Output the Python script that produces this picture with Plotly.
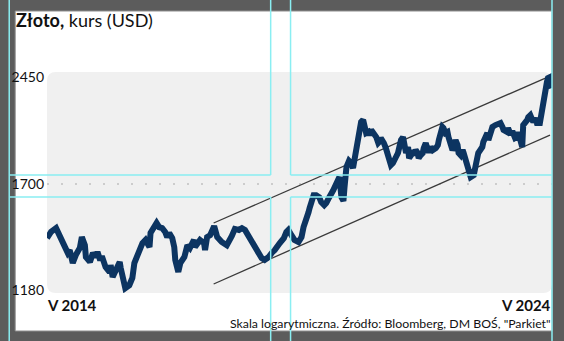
import plotly.graph_objects as go
import math

# ---------------- data ----------------
years = [2014.37,2014.45,2014.55,2014.59,2014.65,2014.72,2014.78,2014.82,2014.88,2014.94,
         2015.02,2015.06,2015.12,2015.14,2015.22,2015.28,2015.33,2015.37,2015.41,2015.47,
         2015.53,2015.61,2015.63,2015.67,2015.73,2015.81,2015.83,2015.87,2015.92,2016.00,
         2016.06,2016.10,2016.16,2016.20,2016.26,2016.32,2016.40,2016.42,2016.50,2016.54,
         2016.59,2016.65,2016.71,2016.75,2016.79,2016.85,2016.89,2016.91,2016.97,2017.01,
         2017.09,2017.15,2017.20,2017.28,2017.30,2017.38,2017.40,2017.48,2017.50,2017.54,
         2017.60,2017.68,
         2017.74,2017.83,2017.93,2018.03,2018.09,2018.17,2018.23,2018.29,
         2018.37,2018.46,2018.56,2018.62,2018.68,2018.76,2018.82,2018.88,2018.98,2019.06,
         2019.11,2019.15,2019.21,2019.27,2019.35,2019.41,2019.45,2019.51,2019.55,2019.57,
         2019.61,2019.65,2019.70,2019.76,2019.80,2019.86,2019.90,2019.94,2019.96,2020.04,
         2020.06,2020.14,2020.16,2020.20,2020.24,2020.26,2020.30,2020.35,
         2020.39,2020.43,2020.45,2020.49,2020.53,2020.55,2020.59,2020.63,2020.65,2020.69,2020.73,2020.75,
         2020.79,2020.83,2020.85,2020.89,2020.93,2020.95,2020.98,2021.02,2021.04,2021.08,
         2021.12,2021.14,2021.18,2021.22,2021.24,2021.28,2021.32,2021.34,2021.38,2021.42,
         2021.44,2021.48,2021.52,2021.54,2021.58,2021.61,2021.63,2021.67,2021.71,2021.73,
         2021.77,2021.81,2021.83,2021.87,2021.91,2021.93,2021.97,2022.01,2022.07,2022.11,
         2022.13,2022.17,2022.20,2022.22,2022.26,2022.30,2022.32,2022.36,2022.40,2022.42,
         2022.46,2022.50,2022.52,2022.56,2022.60,2022.62,2022.66,2022.70,2022.72,2022.76,
         2022.82,2022.85,2022.89,2022.91,2022.95,2022.99,2023.01,2023.05,2023.09,2023.11,
         2023.15,2023.19,2023.25,2023.31,2023.35,2023.39,2023.41,2023.48,2023.50,2023.54,
         2023.58,2023.60,2023.64,2023.68,2023.70,2023.74,2023.78,2023.80,2023.84,2023.88,
         2023.90,2023.94,2023.98,2024.00,2024.04,2024.07,2024.13,2024.17,2024.19,2024.23,
         2024.27,2024.29,2024.33,2024.35,2024.37]

gold_usd = [1412,1442,1461,1437,1412,1369,1342,1355,1296,1332,
            1365,1417,1378,1323,1301,1342,1323,1346,1318,1318,
            1278,1257,1287,1235,1265,1301,1274,1223,1189,1201,
            1231,1296,1332,1355,1388,1403,1369,1437,1466,1487,
            1466,1461,1442,1417,1437,1412,1369,1310,1257,1296,
            1323,1378,1365,1403,1369,1393,1403,1388,1355,1417,
            1426,1471,
            1417,1393,1378,1422,1457,1452,1461,1452,
            1417,1388,1346,1318,1310,1323,1342,1355,1388,1412,
            1442,1452,1426,1403,1393,1417,1466,1502,1544,1565,
            1609,1636,1636,1625,1598,1581,1593,1620,1625,1665,
            1677,1723,1741,1625,1604,1677,1802,1840,
            1827,1796,1833,1891,1977,2046,2103,2118,2060,2025,2032,2011,
            2046,2025,2032,1997,1957,1964,1990,1977,1957,1923,
            1877,1846,1814,1827,1846,1865,1891,1930,1977,1997,
            1957,1891,1930,1858,1877,1910,1877,1910,1891,1858,
            1877,1891,1923,1957,1910,1897,1930,1910,1923,1943,
            1977,2025,2067,2060,2025,2032,1997,1964,1910,1923,
            1977,1943,1891,1877,1910,1891,1846,1796,1753,1741,
            1753,1802,1865,1891,1910,1930,1964,2011,2025,1977,
            2011,2067,2081,2096,2096,2067,2046,2032,2060,2025,
            2032,2025,1990,1997,2032,1957,1930,2081,2096,2118,
            2139,2153,2118,2103,2132,2096,2096,2191,2268,2347,
            2413,2446,2454,2387,2363]

channel_years = [2017.67, 2024.33]
channel_upper = [1487, 2462]
channel_lower = [1206, 2011]

y_ticks = [1180, 1700, 2450]
y_tick_text = ["1180", "1700", "2450"]
x_start_label = "V 2014"
x_end_label = "V 2024"
y_range = [1169.4, 2488.4]

assert len(years) == len(gold_usd), (len(years), len(gold_usd))

# ---------------- layout helpers (pixel -> paper) ----------------
W, H = 564, 341
L, R, T, B = 44, 552, 73, 293
def px(x):
    return (x - L) / (R - L)
def py(y):
    return (B - y) / (B - T)

FONT = "Lato, Roboto, sans-serif"
NAVY = "#0c3461"
CYAN = "#8aeef2"

fig = go.Figure()

fig.add_trace(go.Scatter(x=channel_years, y=channel_upper, mode="lines",
                         line=dict(color="#3a3a3a", width=1.3), hoverinfo="skip"))
fig.add_trace(go.Scatter(x=channel_years, y=channel_lower, mode="lines",
                         line=dict(color="#3a3a3a", width=1.3), hoverinfo="skip"))
fig.add_trace(go.Scatter(x=years, y=gold_usd, mode="lines",
                         line=dict(color=NAVY, width=6), hoverinfo="skip"))

shapes = []
# white panel
shapes.append(dict(type="rect", xref="paper", yref="paper", layer="below",
                   x0=px(12), x1=px(552), y0=py(331), y1=py(11),
                   fillcolor="white", line=dict(color="#8e8e8e", width=1)))
# rounded grey plotting area
r = 9
gl, gr, gt, gb = 44, 552, 72, 293
pts = (f"M {px(gl+r)},{py(gt)} L {px(gr-r)},{py(gt)} Q {px(gr)},{py(gt)} {px(gr)},{py(gt+r)} "
       f"L {px(gr)},{py(gb-r)} Q {px(gr)},{py(gb)} {px(gr-r)},{py(gb)} "
       f"L {px(gl+r)},{py(gb)} Q {px(gl)},{py(gb)} {px(gl)},{py(gb-r)} "
       f"L {px(gl)},{py(gt+r)} Q {px(gl)},{py(gt)} {px(gl+r)},{py(gt)} Z")
shapes.append(dict(type="path", xref="paper", yref="paper", layer="below",
                   path=pts, fillcolor="#f0f0f0", line=dict(width=0)))
# dotted 1700 grid line
shapes.append(dict(type="line", xref="paper", yref="y", layer="below",
                   x0=0, x1=1, y0=1700, y1=1700,
                   line=dict(color="#a8a8a8", width=1, dash="2px,12px")))
# cyan guide lines
def cline(x0, y0, x1, y1):
    shapes.append(dict(type="line", xref="paper", yref="paper", layer="above",
                       x0=px(x0), x1=px(x1), y0=py(y0), y1=py(y1),
                       line=dict(color=CYAN, width=1.5)))
cline(6, -5, 6, 346)
cline(552, -5, 552, 346)
for xv in (269, 289):
    cline(xv, -5, xv, 175)
    cline(xv, 197, xv, 346)
for yv in (175, 197):
    cline(6, yv, 269, yv)
    cline(289, yv, 552, yv)

annotations = [
    dict(text="<b>Złoto,</b> kurs (USD)", xref="paper", yref="paper",
         x=px(11), y=py(20), xanchor="left", yanchor="middle", showarrow=False,
         font=dict(family=FONT, size=18, color="#111111")),
    dict(text=f"<b>{x_start_label}</b>", xref="paper", yref="paper",
         x=px(42), y=py(305), xanchor="left", yanchor="middle", showarrow=False,
         font=dict(family=FONT, size=15, color="#111111")),
    dict(text=f"<b>{x_end_label}</b>", xref="paper", yref="paper",
         x=px(553), y=py(305), xanchor="right", yanchor="middle", showarrow=False,
         font=dict(family=FONT, size=15, color="#111111")),
    dict(text="Skala logarytmiczna. Źródło: Bloomberg, DM BOŚ, \"Parkiet\"", xref="paper", yref="paper",
         x=px(553), y=py(323), xanchor="right", yanchor="middle", showarrow=False,
         font=dict(family=FONT, size=12.3, color="#111111")),
]

fig.update_layout(
    width=W, height=H,
    margin=dict(l=L, r=W - R, t=T, b=H - B, pad=0),
    paper_bgcolor="#5c5c5c", plot_bgcolor="rgba(0,0,0,0)",
    showlegend=False,
    shapes=shapes, annotations=annotations,
    xaxis=dict(range=[years[0], years[-1]], showgrid=False, zeroline=False,
               showticklabels=False, ticks="", showline=False, fixedrange=True),
    yaxis=dict(type="log", range=[math.log10(y_range[0]), math.log10(y_range[1])],
               tickvals=y_ticks, ticktext=y_tick_text, ticks="", showgrid=False,
               zeroline=False, showline=False, ticklabelstandoff=2,
               tickfont=dict(family=FONT, size=14, color="#111111"), fixedrange=True),
)

fig.write_html("out.html", config={"displayModeBar": False})
